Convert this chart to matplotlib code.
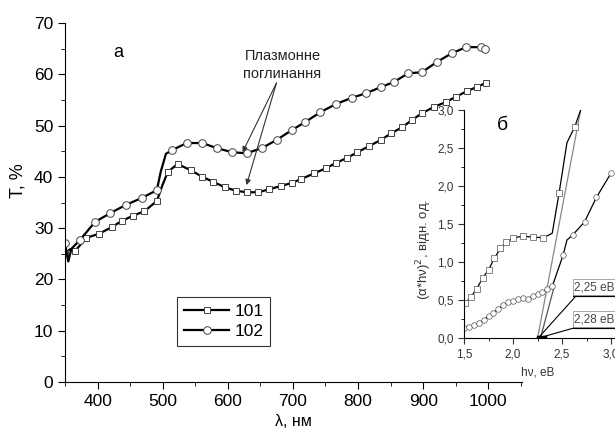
import matplotlib
matplotlib.use('Agg')
import matplotlib.pyplot as plt
from matplotlib.ticker import MultipleLocator, FuncFormatter

plt.rcParams['font.family'] = ['Liberation Sans', 'DejaVu Sans']

# main panel (a): transmission spectra
wl_102 = [350, 355, 360, 373, 396, 419, 443, 468, 491, 497, 505, 514, 537, 561, 583,
          607, 629, 652, 675, 698, 719, 742, 766, 790, 812, 835, 855, 877, 898, 921,
          944, 966, 989, 995]
t_102 = [27.1, 23.5, 26.0, 27.7, 31.2, 32.9, 34.5, 35.9, 37.4, 41.0, 44.5, 45.2, 46.6,
         46.6, 45.6, 44.8, 44.6, 45.6, 47.2, 49.1, 50.7, 52.6, 54.2, 55.4, 56.3, 57.5,
         58.5, 60.2, 60.4, 62.4, 64.1, 65.3, 65.3, 65.0]
wl_101 = [350, 358, 365, 383, 402, 422, 437, 454, 472, 491, 500, 508, 523, 543, 561,
          578, 595, 612, 629, 647, 664, 681, 698, 713, 733, 751, 766, 783, 799, 817,
          835, 851, 868, 883, 898, 916, 935, 950, 967, 982, 996]
t_101 = [25.1, 25.9, 25.5, 28.1, 28.9, 30.2, 31.4, 32.4, 33.3, 35.3, 38.5, 41.0, 42.5,
         41.3, 40.0, 39.0, 38.0, 37.3, 37.0, 37.0, 37.6, 38.2, 38.8, 39.6, 40.7, 41.7,
         42.7, 43.7, 44.8, 46.0, 47.2, 48.5, 49.7, 51.1, 52.4, 53.6, 54.6, 55.6, 56.7,
         57.5, 58.3]

# inset (б): Tauc plot
e_sq = [1.51, 1.57, 1.63, 1.69, 1.75, 1.81, 1.87, 1.93, 2.00, 2.10, 2.20, 2.31, 2.40,
        2.47, 2.55, 2.63, 2.69]
y_sq = [0.46, 0.54, 0.65, 0.79, 0.90, 1.05, 1.18, 1.26, 1.32, 1.34, 1.33, 1.32, 1.38,
        1.91, 2.57, 2.78, 3.0]
e_ci = [1.50, 1.55, 1.60, 1.65, 1.70, 1.75, 1.80, 1.85, 1.90, 1.95, 2.00, 2.05, 2.10,
        2.15, 2.20, 2.25, 2.30, 2.35, 2.40, 2.51, 2.55, 2.61, 2.66, 2.73, 2.85, 3.00]
y_ci = [0.14, 0.15, 0.17, 0.20, 0.24, 0.29, 0.33, 0.39, 0.43, 0.47, 0.49, 0.52, 0.53,
        0.52, 0.55, 0.58, 0.61, 0.65, 0.68, 1.09, 1.29, 1.36, 1.43, 1.53, 1.85, 2.17]
tan1_e, tan1_y = [2.25, 2.69], [0.0, 3.0]
tan2_e, tan2_y = [2.28, 2.42], [0.0, 0.68]
gaps = ['2,25 eB', '2,28 eB']

fig = plt.figure(figsize=(6.15, 4.33), dpi=100)
ax = fig.add_axes([0.1057, 0.1178, 0.7433, 0.829])

mk_101 = [i for i in range(len(wl_101)) if i not in (1, 10)]
mk_102 = [i for i in range(len(wl_102)) if i not in (1, 2, 9, 10)]
ax.plot(wl_101, t_101, color='black', lw=1.6, marker='s', ms=5, mfc='white',
        mec='#444444', mew=0.7, markevery=mk_101, label='101')
ax.plot(wl_102, t_102, color='black', lw=1.6, marker='o', ms=5.5, mfc='white',
        mec='#444444', mew=0.7, markevery=mk_102, label='102')

ax.set_xlim(350, 1052)
ax.set_ylim(0, 70)
ax.spines['top'].set_visible(False)
ax.spines['right'].set_visible(False)
ax.xaxis.set_major_locator(MultipleLocator(100))
ax.xaxis.set_minor_locator(MultipleLocator(50))
ax.yaxis.set_major_locator(MultipleLocator(10))
ax.yaxis.set_minor_locator(MultipleLocator(5))
ax.tick_params(which='major', length=5, labelsize=12.5, direction='out')
ax.tick_params(which='minor', length=3, direction='out')
ax.set_xticks([400, 500, 600, 700, 800, 900, 1000])
ax.set_xlabel('λ, нм', fontsize=11.5)
ax.set_ylabel('T, %', fontsize=13)
ax.yaxis.set_label_coords(-0.085, 0.56)

ax.text(431, 64.3, 'а', fontsize=13, ha='center', va='center')
ax.text(684, 61.8, 'Плазмонне\nпоглинання', fontsize=10.5, ha='center', va='center',
        color='#222222', linespacing=1.35)
for tip in [(622.6, 44.8), (628.7, 38.4)]:
    ax.annotate('', xy=tip, xytext=(674.7, 58.3),
                arrowprops=dict(arrowstyle='-|>', lw=0.8, color='#333333',
                                mutation_scale=8, shrinkA=0, shrinkB=0))

leg = ax.legend(loc='lower left', bbox_to_anchor=(0.245, 0.1), fontsize=12.5,
                frameon=True, fancybox=False, edgecolor='black', handlelength=2.6,
                borderpad=0.4, labelspacing=0.3, handletextpad=0.3,
                borderaxespad=0)
leg.get_frame().set_linewidth(0.8)

# inset
ins = fig.add_axes([0.7545, 0.219, 0.271, 0.527])
ins.patch.set_alpha(0)
ins.plot(tan1_e, tan1_y, color='#888888', lw=0.9)
ins.plot(tan2_e, tan2_y, color='#555555', lw=0.9)
mk_sq = [i for i in range(len(e_sq)) if i not in (12, 14, 16)]
mk_ci = [i for i in range(len(e_ci)) if i not in (20, 22)]
ins.plot(e_sq, y_sq, color='black', lw=0.9, marker='s', ms=3.8, mfc='white',
         mec='#555555', mew=0.5, markevery=mk_sq)
ins.plot(e_ci, y_ci, color='black', lw=0.9, marker='o', ms=4.0, mfc='white',
         mec='#555555', mew=0.5, markevery=mk_ci)

# labels for band gaps with leader lines
for lbl, ty, by in zip(gaps, [0.67, 0.25], [0.566, 0.145]):
    ins.text(2.625, ty, lbl, fontsize=8.5, ha='left', va='center', color='#444444',
             bbox=dict(boxstyle='square,pad=0.15', fc='white', ec='#999999', lw=0.6))
    ins.plot([2.61, 3.2], [by, by], color='black', lw=3, solid_capstyle='butt')
    ins.plot([2.255, 2.65], [0.0, by], color='black', lw=0.8)
ins.plot([2.25, 2.33], [0.01, 0.01], color='black', lw=2.5)

ins.set_xlim(1.5, 3.2)
ins.set_ylim(0, 3.0)
ins.spines['top'].set_visible(False)
ins.spines['right'].set_visible(False)
ins.xaxis.set_major_locator(MultipleLocator(0.5))
ins.xaxis.set_minor_locator(MultipleLocator(0.25))
ins.yaxis.set_major_locator(MultipleLocator(0.5))
ins.yaxis.set_minor_locator(MultipleLocator(0.25))
comma = FuncFormatter(lambda v, p: f'{v:.1f}'.replace('.', ','))
ins.xaxis.set_major_formatter(comma)
ins.yaxis.set_major_formatter(comma)
ins.tick_params(which='major', length=4, labelsize=8.5, colors='#333333')
ins.tick_params(which='minor', length=2)
ins.set_xlabel('hν, eB', fontsize=8.5, color='#333333')
ins.xaxis.set_label_coords(0.44, -0.125)
ins.set_ylabel('(α*hν)$^2$, відн. од.', fontsize=9.5, color='#333333')
ins.yaxis.set_label_coords(-0.18, 0.39)
ins.text(1.89, 2.80, 'б', fontsize=14, ha='center', va='center')

fig.savefig('out.png', dpi=100)
